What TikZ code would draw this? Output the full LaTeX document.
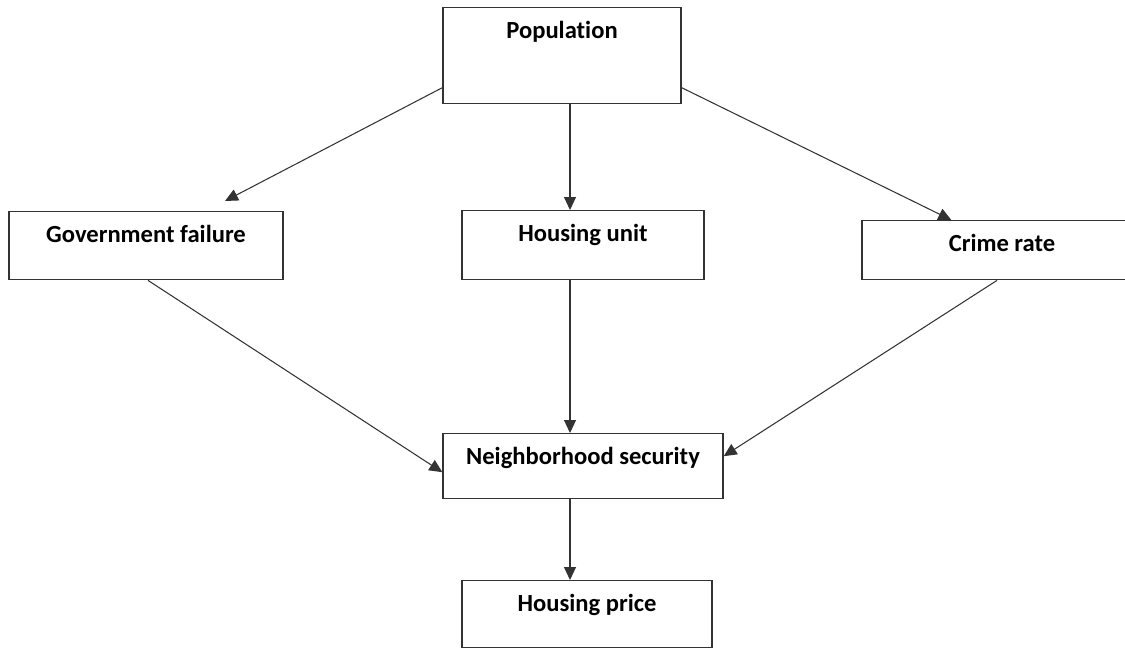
\documentclass[tikz,border=0pt]{standalone}
\usepackage{fontspec}
\setmainfont{Carlito}[Ligatures=NoCommon]
\usetikzlibrary{arrows.meta,calc}
\definecolor{boxline}{HTML}{333333}

\begin{document}
\begin{tikzpicture}[
    x=0.02cm, y=-0.02cm,
    box/.style={draw=boxline, line width=0.8pt, anchor=north, inner ysep=0pt,
      text height=0.62cm, font=\fontsize{14}{16}\selectfont\bfseries},
    arr/.style={draw=boxline, line width=0.6pt, -{Triangle[length=0.26cm,width=0.24cm]}}
  ]
  \useasboundingbox (0,0) rectangle (1125,648);
  % boxes
  \node[box, minimum width=4.76cm, text depth=1.30cm] (pop)   at (562,7)   {Population};
  \node[box, minimum width=5.48cm, text depth=0.74cm] (gov)   at (146,211) {Government failure};
  \node[box, minimum width=4.84cm, text depth=0.76cm] (hu)    at (583,210) {Housing unit};
  \node[box, minimum width=5.60cm, text depth=0.56cm] (crime) at (1002,220) {Crime rate};
  \node[box, minimum width=5.60cm, text depth=0.68cm] (nbh)   at (583,433) {Neighborhood security};
  \node[box, minimum width=5.00cm, text depth=0.72cm] (price) at (587,580) {Housing price};
  \coordinate (midline) at (570,0);
  \coordinate (govtip) at (225,201);
  % arrows
  \draw[arr] ($(pop.west)+(0,32)$) -- (govtip);
  \draw[arr] (pop.south -| midline) -- (hu.north -| midline);
  \draw[arr] ($(pop.east)+(0,32)$) -- ($(crime.north west)+(90,0)$);
  \draw[arr] ($(gov.south)+(2,0)$) -- ($(nbh.west)+(0,6)$);
  \draw[arr] (hu.south -| midline) -- (nbh.north -| midline);
  \draw[arr] ($(crime.south)+(-5,0)$) -- ($(nbh.east)+(0,-10)$);
  \draw[arr] (nbh.south -| midline) -- (price.north -| midline);
\end{tikzpicture}
\end{document}
